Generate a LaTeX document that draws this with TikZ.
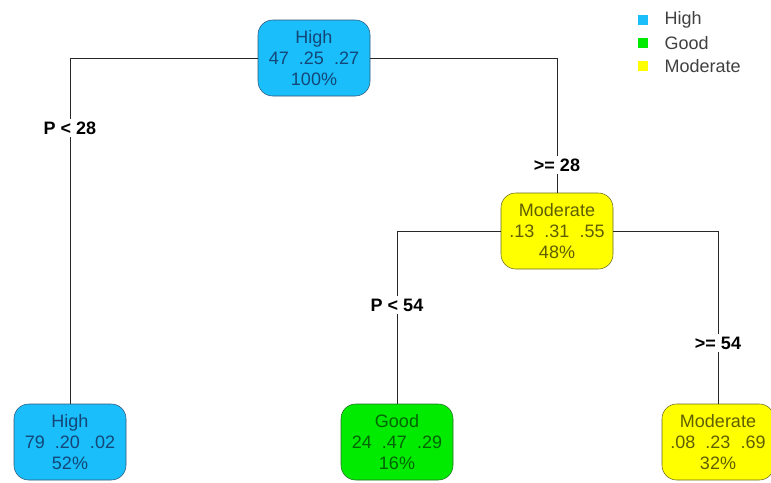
\documentclass[tikz,border=0pt]{standalone}
\usepackage{fontspec}
\setmainfont{Liberation Sans}
\usepackage{tikz}
\usetikzlibrary{positioning}
\definecolor{highfill}{RGB}{25,190,250}
\definecolor{hightext}{RGB}{20,70,120}
\definecolor{goodfill}{RGB}{0,235,0}
\definecolor{goodtext}{RGB}{0,100,0}
\definecolor{modfill}{RGB}{255,255,0}
\definecolor{modtext}{RGB}{95,95,0}
\definecolor{edgegray}{RGB}{40,40,40}

\begin{document}
\begin{tikzpicture}[x=0.75pt, y=-0.75pt,
    treenode/.style={draw=#1text!70!gray, fill=#1fill, text=#1text, rounded corners=11pt,
        minimum width=84pt, minimum height=57pt, align=center, inner sep=0pt,
        font=\fontsize{13.5pt}{15.75pt}\selectfont},
    splitlabel/.style={fill=white, inner sep=2pt, font=\fontsize{13.5pt}{15pt}\selectfont\bfseries},
    legendbox/.style={fill=#1, minimum size=7.5pt, inner sep=0pt},
    legendtext/.style={anchor=west, text=black!75, inner sep=0pt, font=\fontsize{13.5pt}{15pt}\selectfont}]
        \useasboundingbox (0,0) rectangle (771,482);

        % tree nodes
        \node[treenode=high] (root) at (314,58) {High\\47\ \ .25\ \ .27\\100\%};
        \node[treenode=mod] (mid) at (557,231) {Moderate\\.13\ \ .31\ \ .55\\48\%};
        \node[treenode=high] (leafhigh) at (70,442) {High\\79\ \ .20\ \ .02\\52\%};
        \node[treenode=good] (leafgood) at (397,442) {Good\\24\ \ .47\ \ .29\\16\%};
        \node[treenode=mod] (leafmod) at (718,442) {Moderate\\.08\ \ .23\ \ .69\\32\%};

        % split labels
        \node[splitlabel] (lt28) at (70,128) {P < 28};
        \node[splitlabel] (ge28) at (557,165) {>= 28};
        \node[splitlabel] (lt54) at (397,305) {P < 54};
        \node[splitlabel] (ge54) at (718,343) {>= 54};

        % edges
        \draw[edgegray] (root.west) -| (lt28.north);
        \draw[edgegray] (lt28.south) -- (leafhigh.north);
        \draw[edgegray] (root.east) -| (ge28.north);
        \draw[edgegray] (ge28.south) -- (mid.north);
        \draw[edgegray] (mid.west) -| (lt54.north);
        \draw[edgegray] (lt54.south) -- (leafgood.north);
        \draw[edgegray] (mid.east) -| (ge54.north);
        \draw[edgegray] (ge54.south) -- (leafmod.north);

        % legend
        \node[legendbox=highfill] (keyhigh) at (643,20) {};
        \node[legendbox=goodfill] (keygood) at (643,43) {};
        \node[legendbox=modfill] (keymod) at (643,66) {};
        \node[legendtext, right=12pt of keyhigh] (txthigh) {High};
        \node[legendtext, right=12pt of keygood] (txtgood) {Good};
        \node[legendtext, right=12pt of keymod] (txtmod) {Moderate};
    \end{tikzpicture}
\end{document}
